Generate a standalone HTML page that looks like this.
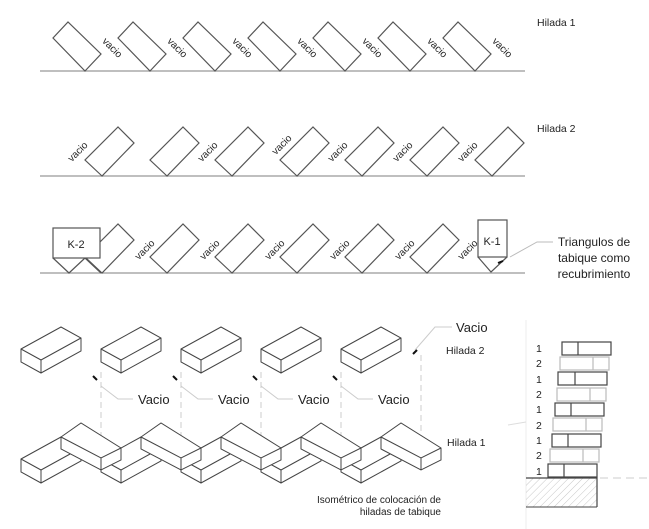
<!DOCTYPE html>
<html><head><meta charset="utf-8"><style>
html,body{margin:0;padding:0;background:#fff;}
svg{display:block;font-family:"Liberation Sans",sans-serif;}
</style></head><body>
<svg width="649" height="529" viewBox="0 0 649 529" xmlns="http://www.w3.org/2000/svg">
<defs>
<polygon id="r1" points="0,0 16,-17 -17,-49 -32,-33" fill="#fff" stroke="#555" stroke-width="1.2"/>
<polygon id="r2" points="0,0 -17,-16 16,-49 32,-33" fill="#fff" stroke="#555" stroke-width="1.2"/>
<g id="bA" fill="#fff" stroke="#444" stroke-width="1">
<polygon points="0,0 40,-22 60,-11 60,2 20,24 0,13"/>
<polyline points="0,0 20,11 60,-11" fill="none"/>
<line x1="20" y1="11" x2="20" y2="24"/>
</g>
<g id="bB" fill="#fff" stroke="#444" stroke-width="1">
<polygon points="0,0 20,-14 60,11 60,23 40,33 0,12"/>
<polyline points="0,0 40,21 60,11" fill="none"/>
<line x1="40" y1="21" x2="40" y2="33"/>
</g>
</defs>

<!-- Row 1 -->
<line x1="40" y1="71" x2="525" y2="71" stroke="#999" stroke-width="1.2"/>
<g>
<use href="#r1" x="85" y="71"/><use href="#r1" x="150" y="71"/><use href="#r1" x="215" y="71"/>
<use href="#r1" x="280" y="71"/><use href="#r1" x="345" y="71"/><use href="#r1" x="410" y="71"/>
<use href="#r1" x="475" y="71"/>
</g>
<g font-size="10" fill="#222" text-anchor="middle">
<text transform="translate(110,50) rotate(45)">vacio</text>
<text transform="translate(175,50) rotate(45)">vacio</text>
<text transform="translate(240,50) rotate(45)">vacio</text>
<text transform="translate(305,50) rotate(45)">vacio</text>
<text transform="translate(370,50) rotate(45)">vacio</text>
<text transform="translate(435,50) rotate(45)">vacio</text>
<text transform="translate(500,50) rotate(45)">vacio</text>
</g>
<text x="537" y="26" font-size="10.5" fill="#222">Hilada 1</text>

<!-- Row 2 -->
<line x1="40" y1="176" x2="525" y2="176" stroke="#999" stroke-width="1.2"/>
<use href="#r2" x="102" y="176"/><use href="#r2" x="167" y="176"/><use href="#r2" x="232" y="176"/>
<use href="#r2" x="297" y="176"/><use href="#r2" x="362" y="176"/><use href="#r2" x="427" y="176"/>
<use href="#r2" x="492" y="176"/>
<g font-size="10" fill="#222" text-anchor="middle">
<text transform="translate(80,154) rotate(-45)">vacio</text>
<text transform="translate(210,154) rotate(-45)">vacio</text>
<text transform="translate(284,147) rotate(-45)">vacio</text>
<text transform="translate(340,154) rotate(-45)">vacio</text>
<text transform="translate(405,154) rotate(-45)">vacio</text>
<text transform="translate(470,154) rotate(-45)">vacio</text>
</g>
<text x="537" y="132" font-size="10.5" fill="#222">Hilada 2</text>

<!-- Row 3 -->
<line x1="40" y1="273" x2="525" y2="273" stroke="#999" stroke-width="1.2"/>
<use href="#r2" x="102" y="273"/><use href="#r2" x="167" y="273"/><use href="#r2" x="232" y="273"/>
<use href="#r2" x="297" y="273"/><use href="#r2" x="362" y="273"/><use href="#r2" x="427" y="273"/>
<polyline points="53,258 69,273 85,258 101,273" fill="none" stroke="#555" stroke-width="1.2"/>
<rect x="53" y="228" width="47" height="30" fill="#fff" stroke="#555" stroke-width="1.2"/>
<text x="76" y="248" font-size="11" text-anchor="middle" fill="#222">K-2</text>
<rect x="478" y="220" width="29" height="37" fill="#fff" stroke="#555" stroke-width="1.2"/>
<polyline points="478,257 491,272 507,257" fill="none" stroke="#555" stroke-width="1.2"/>
<line x1="498" y1="263" x2="503" y2="261" stroke="#111" stroke-width="2"/>
<text x="492" y="245" font-size="11" text-anchor="middle" fill="#222">K-1</text>
<g font-size="10" fill="#222" text-anchor="middle">
<text transform="translate(147,252) rotate(-45)">vacio</text>
<text transform="translate(212,252) rotate(-45)">vacio</text>
<text transform="translate(277,252) rotate(-45)">vacio</text>
<text transform="translate(342,252) rotate(-45)">vacio</text>
<text transform="translate(407,252) rotate(-45)">vacio</text>
<text transform="translate(470,252) rotate(-45)">vacio</text>
</g>
<polyline points="510,257 537,242 553,242" fill="none" stroke="#bbb" stroke-width="1"/>
<g font-size="12" fill="#222" text-anchor="middle">
<text x="594" y="246">Triangulos de</text>
<text x="594" y="262">tabique como</text>
<text x="594" y="278">recubrimiento</text>
</g>

<!-- Isometric -->
<g stroke="#ccc" stroke-width="1" stroke-dasharray="6,4" fill="none">
<line x1="101" y1="372" x2="101" y2="470"/>
<line x1="181" y1="372" x2="181" y2="470"/>
<line x1="261" y1="372" x2="261" y2="470"/>
<line x1="341" y1="372" x2="341" y2="470"/>
<line x1="421" y1="355" x2="421" y2="455"/>
</g>
<g stroke="#ccc" stroke-width="1" fill="none">
<polyline points="101,386 118,399 133,399"/>
<polyline points="181,386 198,399 213,399"/>
<polyline points="261,386 278,399 293,399"/>
<polyline points="341,386 358,399 373,399"/>
<polyline points="415,350 435,327 452,327"/>
</g>
<g stroke="#111" stroke-width="2">
<line x1="93" y1="376" x2="97" y2="380"/>
<line x1="173" y1="376" x2="177" y2="380"/>
<line x1="253" y1="376" x2="257" y2="380"/>
<line x1="333" y1="376" x2="337" y2="380"/>
<line x1="413" y1="354" x2="417" y2="350"/>
</g>
<use href="#bA" x="21" y="349"/><use href="#bA" x="101" y="349"/><use href="#bA" x="181" y="349"/>
<use href="#bA" x="261" y="349"/><use href="#bA" x="341" y="349"/>
<g font-size="13" fill="#222">
<text x="138" y="404">Vacio</text><text x="218" y="404">Vacio</text>
<text x="298" y="404">Vacio</text><text x="378" y="404">Vacio</text>
<text x="456" y="332">Vacio</text>
</g>
<text x="446" y="354" font-size="10.5" fill="#222">Hilada 2</text>
<text x="447" y="446" font-size="10.5" fill="#222">Hilada 1</text>

<use href="#bA" x="21" y="459"/><use href="#bA" x="101" y="459"/><use href="#bA" x="181" y="459"/>
<use href="#bA" x="261" y="459"/><use href="#bA" x="341" y="459"/>
<use href="#bB" x="61" y="437"/><use href="#bB" x="141" y="437"/><use href="#bB" x="221" y="437"/>
<use href="#bB" x="301" y="437"/><use href="#bB" x="381" y="437"/>

<g font-size="10" fill="#222" text-anchor="end">
<text x="441" y="503">Isométrico de colocación de</text>
<text x="441" y="515">hiladas de tabique</text>
</g>

<!-- Right column -->
<line x1="526" y1="320" x2="526" y2="529" stroke="#eee" stroke-width="1"/>
<g stroke-width="1.2" fill="#fff">
<rect x="562" y="342" width="49" height="13" stroke="#444"/><line x1="578" y1="342" x2="578" y2="355" stroke="#444"/>
<rect x="560" y="357" width="49" height="13" stroke="#bbb"/><line x1="593" y1="357" x2="593" y2="370" stroke="#bbb"/>
<rect x="558" y="372" width="49" height="13" stroke="#444"/><line x1="575" y1="372" x2="575" y2="385" stroke="#444"/>
<rect x="557" y="388" width="49" height="13" stroke="#bbb"/><line x1="590" y1="388" x2="590" y2="401" stroke="#bbb"/>
<rect x="555" y="403" width="49" height="13" stroke="#444"/><line x1="571" y1="403" x2="571" y2="416" stroke="#444"/>
<rect x="553" y="418" width="49" height="13" stroke="#bbb"/><line x1="586" y1="418" x2="586" y2="431" stroke="#bbb"/>
<rect x="552" y="434" width="49" height="13" stroke="#444"/><line x1="568" y1="434" x2="568" y2="447" stroke="#444"/>
<rect x="550" y="449" width="49" height="13" stroke="#bbb"/><line x1="583" y1="449" x2="583" y2="462" stroke="#bbb"/>
<rect x="548" y="464" width="49" height="13" stroke="#444"/><line x1="564" y1="464" x2="564" y2="477" stroke="#444"/>
</g>
<g font-size="10.5" fill="#222">
<text x="536" y="352">1</text><text x="536" y="367">2</text><text x="536" y="383">1</text>
<text x="536" y="398">2</text><text x="536" y="413">1</text><text x="536" y="429">2</text>
<text x="536" y="444">1</text><text x="536" y="459">2</text><text x="536" y="475">1</text>
</g>
<defs><pattern id="h" width="5" height="5" patternUnits="userSpaceOnUse" patternTransform="rotate(45)"><line x1="0" y1="0" x2="0" y2="5" stroke="#bbb" stroke-width="0.8"/></pattern></defs>
<rect x="526" y="478" width="71" height="29" fill="url(#h)"/>
<polyline points="526,478 597,478 597,507" fill="none" stroke="#444" stroke-width="1.2"/>
<line x1="526" y1="507" x2="597" y2="507" stroke="#444" stroke-width="1"/>
<line x1="600" y1="478" x2="649" y2="478" stroke="#ccc" stroke-dasharray="8,5"/>
<line x1="508" y1="425" x2="526" y2="422" stroke="#ddd"/>
</svg>
</body></html>
